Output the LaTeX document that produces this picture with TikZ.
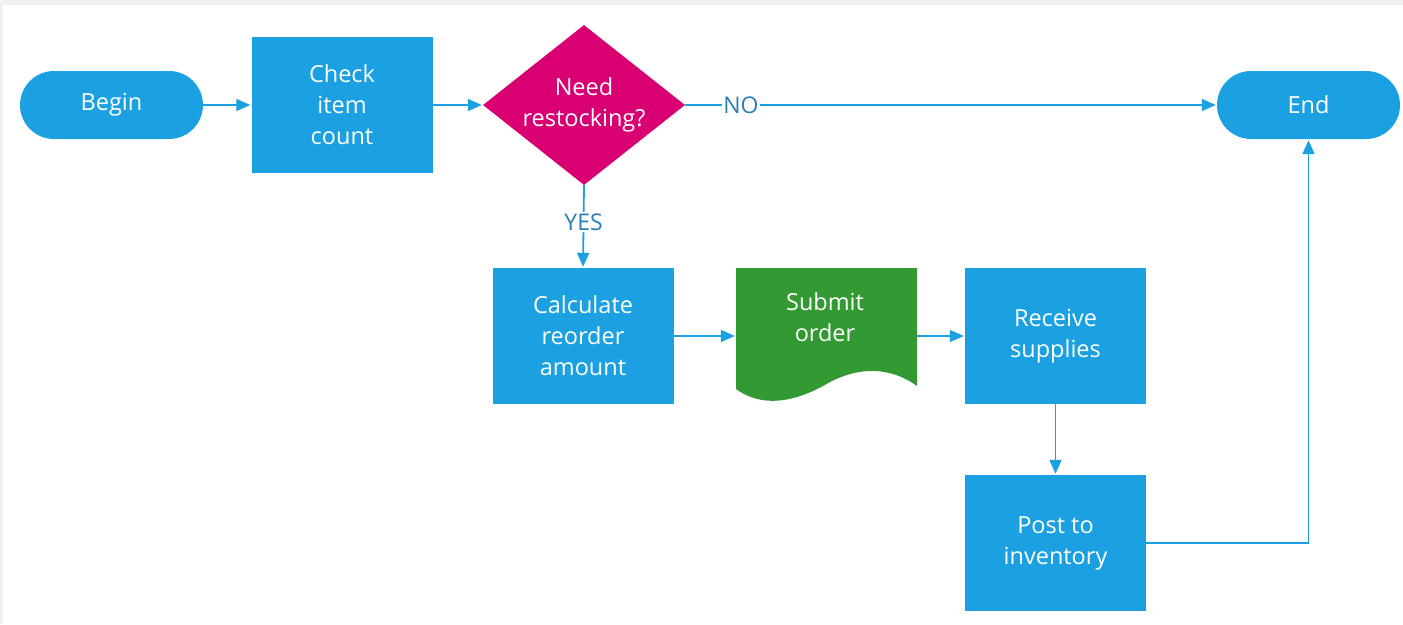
\documentclass[tikz,border=0pt]{standalone}
\usepackage{fontspec}
\setmainfont{Open Sans}
\usetikzlibrary{shapes.geometric,arrows.meta}
\definecolor{cblue}{HTML}{1BA1E2}
\definecolor{cmag}{HTML}{D80073}
\definecolor{cgreen}{HTML}{339933}
\definecolor{clbl}{HTML}{2A7DB9}
\definecolor{cbg}{HTML}{F0F0F0}
\tikzset{
  txt/.style={text=white, align=center, font=\fontsize{23.5}{31}\selectfont, inner sep=0pt},
  procbox/.style={txt, rectangle, fill=cblue, minimum width=181pt, minimum height=136pt},
  termbox/.style={txt, rectangle, fill=cblue, rounded corners=34pt, minimum width=183pt, minimum height=68pt},
  decbox/.style={txt, diamond, fill=cmag, aspect=1.2625, minimum width=202pt, minimum height=160pt},
  conn/.style={draw=cblue, line width=1.8pt, -{Triangle[length=14pt,width=12pt]}, shorten >=1pt},
  lbl/.style={fill=white, text=clbl, font=\fontsize{23}{26}\selectfont, inner sep=1.5pt}
}
\begin{document}
\begin{tikzpicture}[x=1pt,y=-1pt]
\useasboundingbox (0,0) rectangle (1403,624);
\fill[cbg] (0,0) rectangle (1403,624);
\fill[white] (3,5) rectangle (1403,624);

\node[termbox] (begin) at (111.5,105) {Begin};
\node[procbox] (check) at (342,105) {Check\\item\\count};
\node[decbox] (dec) at (584,105) {Need\\restocking?};
\node[termbox] (end) at (1308.5,105) {End};
\node[procbox] (calc) at (583,336) {Calculate\\reorder\\amount};
\fill[cgreen] (736,268) -- (917,268) -- (917,386)
  .. controls (895,370) and (865,364) .. (830,382)
  .. controls (800,400) and (765,410) .. (736,389) -- cycle;
\node[rectangle, minimum width=181pt, minimum height=136pt, inner sep=0pt] (sub) at (826.5,336) {};
\node[txt] (subtxt) at (825,317) {Submit\\order};
\node[procbox] (recv) at (1055.5,336) {Receive\\supplies};
\node[procbox] (post) at (1055.5,543) {Post to\\inventory};

\draw[conn] (begin) -- (check);
\draw[conn] (check) -- (dec);
\draw[conn] (dec.east) -- node[lbl, pos=0.105] {NO} (end.west);
\draw[conn] (dec.south) -- node[lbl, pos=0.45] {YES} (calc.north);
\draw[conn] (calc) -- (sub);
\draw[conn] (sub) -- (recv);
\draw[conn] (recv) -- (post);
\draw[conn] (post.east) -| (end.south);
\end{tikzpicture}
\end{document}
